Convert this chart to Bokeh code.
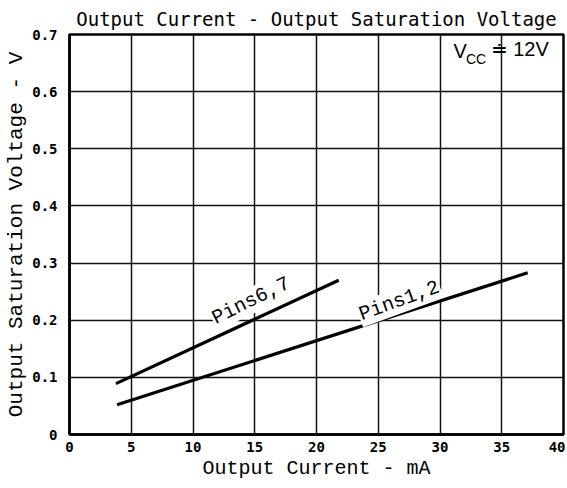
from bokeh.plotting import figure
from bokeh.models import FixedTicker, Range1d, Label, ColumnDataSource
from bokeh.core.properties import value
from bokeh.embed import file_html
from bokeh.resources import INLINE

# data
pins67_current = [3.76, 21.8]
pins67_voltage = [0.089, 0.270]
pins12_current = [3.85, 37.1]
pins12_voltage = [0.052, 0.283]

x_ticks = [0, 5, 10, 15, 20, 25, 30, 35, 40]
x_tick_labels = ["0", "5", "10", "15", "20", "25", "30", "35", "40"]
y_ticks = [0, 0.1, 0.2, 0.3, 0.4, 0.5, 0.6, 0.7]
y_tick_labels = ["0", "0.1", "0.2", "0.3", "0.4", "0.5", "0.6", "0.7"]

label_names = ["Pins6,7", "Pins1,2"]
label_x = [14.7, 26.7]
label_y = [0.234, 0.234]
label_angle_deg = [26, 20]

p = figure(width=565, height=482, output_backend="svg", toolbar_location=None,
           x_range=Range1d(0, 40), y_range=Range1d(0, 0.7),
           min_border_left=69, min_border_right=2, min_border_top=34, min_border_bottom=36,
           title="Output Current - Output Saturation Voltage")

p.title.text_font = "DejaVu Sans Mono"
p.title.text_font_size = "19px"
p.title.text_font_style = "normal"
p.title.text_color = "black"
p.title.align = "center"
p.title.standoff = 9

p.outline_line_color = "black"
p.outline_line_width = 2.5
p.background_fill_color = "white"
p.border_fill_color = "white"

p.xaxis.ticker = FixedTicker(ticks=x_ticks)
p.yaxis.ticker = FixedTicker(ticks=y_ticks)
p.xaxis.major_label_overrides = {t: l for t, l in zip(x_ticks, x_tick_labels)}
p.yaxis.major_label_overrides = {t: l for t, l in zip(y_ticks, y_tick_labels)}

for ax in (p.xaxis, p.yaxis):
    ax.axis_line_color = "black"
    ax.axis_line_width = 2.5
    ax.major_tick_in = 0
    ax.major_tick_out = 0
    ax.minor_tick_in = 0
    ax.minor_tick_out = 0
    ax.major_label_text_font = "DejaVu Sans Mono"
    ax.major_label_text_font_style = "bold"
    ax.major_label_text_font_size = "14px"
    ax.major_label_text_color = "black"
    ax.axis_label_text_font = "Liberation Mono"
    ax.axis_label_text_font_style = "normal"
    ax.axis_label_text_color = "black"

p.xaxis.axis_label = "Output Current - mA"
p.yaxis.axis_label = "Output Saturation Voltage - V"
p.xaxis.axis_label_text_font_size = "20px"
p.yaxis.axis_label_text_font_size = "21px"
p.xaxis.major_label_standoff = 7
p.yaxis.major_label_standoff = 12
p.xaxis.axis_label_standoff = 2
p.yaxis.axis_label_standoff = 1

p.grid.grid_line_color = "#111111"
p.grid.grid_line_width = 1.5
p.grid.grid_line_alpha = 1.0

p.line(pins67_current, pins67_voltage, line_color="black", line_width=3.2)
p.line(pins12_current, pins12_voltage, line_color="black", line_width=3.2)

src = ColumnDataSource(dict(x=label_x, y=label_y, t=label_names,
                            a=[d * 3.14159265 / 180 for d in label_angle_deg]))
p.text(x="x", y="y", text="t", angle="a", source=src,
       text_font=value("Liberation Mono"), text_font_size="20px",
       text_align="center", text_baseline="middle", text_color="black",
       background_fill_color="white", padding=1)

p.add_layout(Label(x=31.1, y=0.672, text="V", text_font="Liberation Sans",
                   text_font_size="20px", text_baseline="middle", text_color="black"))
p.add_layout(Label(x=32.1, y=0.657, text="CC", text_font="Liberation Sans",
                   text_font_size="14px", text_baseline="middle", text_color="black"))
p.add_layout(Label(x=34.1, y=0.674, text="\u2250 12V", text_font="Liberation Sans",
                   text_font_size="20px", text_baseline="middle", text_color="black"))

open("out.html", "w").write(file_html(p, INLINE))
